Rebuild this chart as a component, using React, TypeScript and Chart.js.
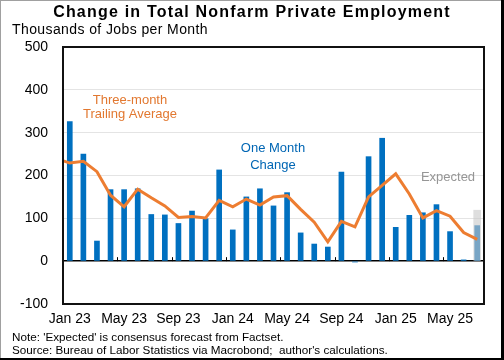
import React, { useEffect, useRef } from 'react';
import { Chart, registerables } from 'chart.js';

Chart.register(...registerables);

// Months (Dec 22 is only used so the trailing-average line enters from the left edge)
const monthLabels = [
  'Dec 22',
  'Jan 23', 'Feb 23', 'Mar 23', 'Apr 23', 'May 23', 'Jun 23', 'Jul 23', 'Aug 23', 'Sep 23', 'Oct 23', 'Nov 23', 'Dec 23',
  'Jan 24', 'Feb 24', 'Mar 24', 'Apr 24', 'May 24', 'Jun 24', 'Jul 24', 'Aug 24', 'Sep 24', 'Oct 24', 'Nov 24', 'Dec 24',
  'Jan 25', 'Feb 25', 'Mar 25', 'Apr 25', 'May 25', 'Jun 25', 'Jul 25',
];

// One-month change (thousands)
const oneMonthChange = [
  null,
  326, 250, 47, 167, 167, 169, 109, 108, 88, 117, 99, 213,
  73, 150, 169, 129, 160, 66, 40, 33, 208, -2, 244, 287,
  79, 107, 113, 132, 69, 3, 83,
];

// Three-month trailing average (thousands)
const threeMonthAverage = [
  240,
  229, 233, 209, 154, 127, 168, 148, 129, 102, 104, 101, 142,
  127, 145, 131, 150, 153, 121, 91, 45, 93, 80, 150, 177,
  204, 157, 101, 118, 105, 67, 51,
];

// Consensus expectation
const expectedMonth = 'Jul 25';
const expectedValue = 119;

const yMin = -100;
const yMax = 500;
const yStep = 100;

const FONT = "'Liberation Sans', Arial, sans-serif";
const BLUE = 'rgb(0,112,192)';
const ORANGE = 'rgb(237,125,49)';

function withSpacing(ctx: any, spacing: string, fn: () => void) {
  const prev = ctx.letterSpacing;
  try {
    ctx.letterSpacing = spacing;
  } catch (e) {}
  fn();
  try {
    ctx.letterSpacing = prev || '0px';
  } catch (e) {}
}

const decorPlugin = {
  id: 'decor',
  beforeDraw(chart: any) {
    const { ctx, width, height } = chart;
    ctx.save();
    ctx.fillStyle = '#fff';
    ctx.fillRect(0, 0, width, height);
    ctx.restore();
  },
  afterDatasetsDraw(chart: any) {
    const { ctx } = chart;
    ctx.save();
    ctx.textAlign = 'center';
    ctx.textBaseline = 'middle';
    ctx.font = `13px ${FONT}`;
    ctx.fillStyle = 'rgb(226,120,48)';
    ctx.fillText('Three-month', 130, 100);
    ctx.fillText('Trailing Average', 130, 114.5);
    ctx.fillStyle = 'rgb(0,102,180)';
    ctx.fillText('One Month', 273, 148.5);
    ctx.fillText('Change', 273, 165);
    ctx.fillStyle = 'rgb(150,150,150)';
    ctx.fillText('Expected', 448, 177);
    ctx.restore();
  },
  afterDraw(chart: any) {
    const { ctx, chartArea: a, width, height } = chart;
    const xs = chart.scales.x;
    const ys = chart.scales.y;
    ctx.save();
    // plot frame
    ctx.strokeStyle = '#111';
    ctx.lineWidth = 2;
    ctx.strokeRect(a.left, a.top, a.right - a.left, a.bottom - a.top);
    // small tick marks on the zero line
    const y0 = ys.getPixelForValue(0);
    ctx.lineWidth = 1;
    ctx.strokeStyle = '#000';
    monthLabels.forEach((l, i) => {
      if (i > 1 && /^(Jan|May|Sep)/.test(l)) {
        const px = Math.round((xs.getPixelForValue(i - 1) + xs.getPixelForValue(i)) / 2) + 0.5;
        ctx.beginPath();
        ctx.moveTo(px, y0);
        ctx.lineTo(px, y0 - 4);
        ctx.stroke();
      }
    });
    // titles
    ctx.fillStyle = '#000';
    ctx.textBaseline = 'middle';
    ctx.textAlign = 'center';
    ctx.font = `bold 16px ${FONT}`;
    withSpacing(ctx, '1.2px', () => ctx.fillText('Change in Total Nonfarm Private Employment', 252, 12.5));
    ctx.textAlign = 'left';
    ctx.font = `14px ${FONT}`;
    withSpacing(ctx, '0.4px', () => ctx.fillText('Thousands of Jobs per Month', 12, 30.5));
    ctx.font = `11.7px ${FONT}`;
    ctx.fillText("Note: 'Expected' is consensus forecast from Factset.", 12, 338);
    ctx.fillText("Source: Bureau of Labor Statistics via Macrobond;  author's calculations.", 12, 351);
    // outer frame
    ctx.fillStyle = '#a0a0a0';
    ctx.fillRect(0, 0, width, 1);
    ctx.fillRect(0, 0, 1, height);
    ctx.fillStyle = '#000';
    ctx.fillRect(width - 3, 0, 3, height);
    ctx.fillRect(0, height - 2, width, 2);
    ctx.restore();
  },
};

export default function App() {
  const ref = useRef<HTMLCanvasElement | null>(null);

  useEffect(() => {
    if (!ref.current) return;
    const expectedData = monthLabels.map((l) => (l === expectedMonth ? expectedValue : null));
    const chart = new Chart(ref.current, {
      type: 'bar',
      data: {
        labels: monthLabels,
        datasets: [
          {
            type: 'line',
            label: 'Three-month Trailing Average',
            data: threeMonthAverage,
            borderColor: ORANGE,
            borderWidth: 3,
            pointRadius: 0,
            tension: 0,
            order: 1,
          } as any,
          {
            type: 'bar',
            label: 'Expected',
            data: expectedData,
            backgroundColor: 'rgba(200,200,200,0.6)',
            barThickness: 7,
            grouped: false,
            order: 2,
          } as any,
          {
            type: 'bar',
            label: 'One Month Change',
            data: oneMonthChange,
            backgroundColor: BLUE,
            barThickness: 5,
            grouped: false,
            order: 3,
          } as any,
        ],
      },
      options: {
        responsive: false,
        animation: false,
        devicePixelRatio: 1,
        layout: { padding: { left: 0, right: 20, top: 47, bottom: 0 } },
        plugins: {
          legend: { display: false },
          tooltip: { enabled: false },
          title: { display: false },
        },
        scales: {
          x: {
            type: 'category',
            min: 'Jan 23',
            max: 'Jul 25',
            offset: true,
            grid: { display: false, drawTicks: false },
            border: { display: false },
            ticks: {
              autoSkip: false,
              maxRotation: 0,
              padding: 7,
              color: '#000',
              font: { family: FONT, size: 14 },
              callback: function (this: any, value: any) {
                const l = this.getLabelForValue(value);
                return /^(Jan|May|Sep)/.test(l) ? l : '';
              },
            },
            afterFit: (s: any) => {
              s.height = 56;
            },
          },
          y: {
            min: yMin,
            max: yMax,
            border: { display: false },
            grid: {
              drawTicks: false,
              color: (c: any) =>
                c.tick && c.tick.value === 0
                  ? '#000'
                  : c.tick && (c.tick.value === yMin || c.tick.value === yMax)
                  ? 'rgba(0,0,0,0)'
                  : 'rgb(228,228,228)',
              lineWidth: (c: any) => (c.tick && c.tick.value === 0 ? 1.5 : 1),
            },
            ticks: {
              stepSize: yStep,
              padding: 15,
              color: '#000',
              font: { family: FONT, size: 14 },
            },
            afterFit: (s: any) => {
              s.width = 63;
            },
          },
        },
      },
      plugins: [decorPlugin],
    });
    return () => chart.destroy();
  }, []);

  return (
    <div style={{ position: 'absolute', left: 0, top: 0, width: 504, height: 360 }}>
      <canvas ref={ref} width={504} height={360} style={{ display: 'block', width: 504, height: 360 }} />
    </div>
  );
}
